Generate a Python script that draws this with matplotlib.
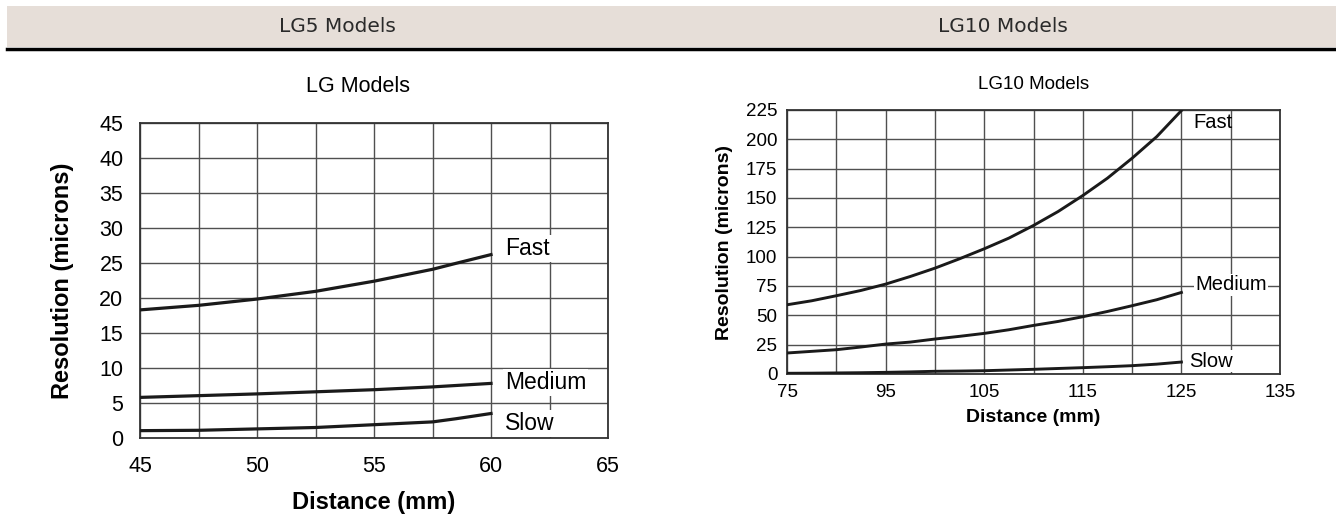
import matplotlib.pyplot as plt
from matplotlib.patches import Rectangle
from matplotlib.lines import Line2D

# LG5 (kiri)
lg5_x = [45, 47.5, 50, 52.5, 55, 57.5, 58.5, 60]
lg5_fast = [18.3, 18.95, 19.85, 20.95, 22.4, 24.1, 24.95, 26.2]
lg5_medium = [5.8, 6.05, 6.3, 6.6, 6.9, 7.3, 7.5, 7.8]
lg5_slow = [1.05, 1.1, 1.3, 1.5, 1.9, 2.3, 2.75, 3.5]
lg5_xticks = [45, 50, 55, 60, 65]

# LG10 (kanan) - label sumbu x seperti di gambar asli
lg10_x = [85, 87.5, 90, 92.5, 95, 97.5, 100, 102.5, 105, 107.5, 110,
          112.5, 115, 117.5, 120, 122.5, 125]
lg10_fast = [59.0, 62.4, 66.7, 71.2, 76.6, 83.1, 90.2, 98.2, 106.7, 115.8,
             126.6, 138.5, 152.1, 166.9, 183.9, 202.3, 224.5]
lg10_medium = [17.9, 19.3, 20.7, 23.0, 25.5, 27.2, 29.8, 32.1, 34.6, 37.7,
               41.4, 44.8, 48.8, 53.3, 58.2, 63.3, 69.5]
lg10_slow = [0.6, 0.7, 0.9, 1.1, 1.4, 1.8, 2.3, 2.5, 2.8, 3.4, 4.0, 4.7,
             5.4, 6.2, 7.1, 8.4, 10.2]
lg10_xticks = [85, 95, 105, 115, 125, 135]
lg10_xticklabels = ["75", "95", "105", "115", "125", "135"]

headers = ["LG5 Models", "LG10 Models"]

plt.rcParams["font.family"] = ["Liberation Sans", "DejaVu Sans"]

W, H = 1336, 521
fig = plt.figure(figsize=(W / 100, H / 100), dpi=100)

# Header
fig.patches.append(Rectangle((7 / W, 1 - 47 / H), 1 - 7 / W, 41 / H,
                             transform=fig.transFigure, facecolor="#e6ded8",
                             edgecolor="none"))
fig.lines.append(Line2D([7 / W, 1], [1 - 48.5 / H] * 2, transform=fig.transFigure,
                        color="black", linewidth=2.5))
fig.text(337 / W, 1 - 26 / H, headers[0], ha="center", va="center",
         fontsize=14.5, family=["DejaVu Sans"], color="#2a2a2a")
fig.text(1003 / W, 1 - 26 / H, headers[1], ha="center", va="center",
         fontsize=14.5, family=["DejaVu Sans"], color="#2a2a2a")

grid_c = "#505050"
line_c = "#1a1a1a"


def style_axes(ax):
    ax.grid(True, color=grid_c, linewidth=1.0)
    ax.set_axisbelow(True)
    for s in ax.spines.values():
        s.set_color("#333333")
        s.set_linewidth(1.3)
    ax.tick_params(length=0)


# Panel kiri
ax1 = fig.add_axes([140 / W, 1 - 438 / H, 468 / W, 315 / H])
ax1.plot(lg5_x, lg5_fast, color=line_c, linewidth=2.3, zorder=3)
ax1.plot(lg5_x, lg5_medium, color=line_c, linewidth=2.3, zorder=3)
ax1.plot(lg5_x, lg5_slow, color=line_c, linewidth=2.3, zorder=3)
ax1.set_xlim(45, 65)
ax1.set_ylim(0, 45)
xg1 = [45 + 2.5 * i for i in range(9)]
ax1.set_xticks(xg1)
ax1.set_xticklabels([str(int(v)) if v in lg5_xticks else "" for v in xg1])
ax1.set_yticks(range(0, 46, 5))
style_axes(ax1)
ax1.tick_params(labelsize=15.5)
ax1.tick_params(axis="y", pad=12)
ax1.tick_params(axis="x", pad=13)
ax1.set_xlabel("Distance (mm)", fontsize=17, fontweight="bold", va="center")
ax1.xaxis.set_label_coords(0.5, -0.206)
ax1.set_ylabel("Resolution (microns)", fontsize=17, fontweight="bold", va="center")
ax1.yaxis.set_label_coords(-0.165, 0.5)
ax1.text(0.465, 1.117, "LG Models", transform=ax1.transAxes, ha="center",
         va="center", fontsize=15.5)
box = dict(facecolor="white", edgecolor="none", pad=1.5)
ax1.text(60.6, 27.1, "Fast", fontsize=16.5, va="center", ha="left", bbox=box)
ax1.text(60.6, 7.9, "Medium", fontsize=16.5, va="center", ha="left", bbox=box)
ax1.text(60.6, 2.1, "Slow", fontsize=16.5, va="center", ha="left", bbox=box)

# Panel kanan
ax2 = fig.add_axes([787 / W, 1 - 374 / H, 493 / W, 264 / H])
ax2.plot(lg10_x, lg10_fast, color=line_c, linewidth=2.1, zorder=3)
ax2.plot(lg10_x, lg10_medium, color=line_c, linewidth=2.1, zorder=3)
ax2.plot(lg10_x, lg10_slow, color=line_c, linewidth=2.1, zorder=3)
ax2.set_xlim(85, 135)
ax2.set_ylim(0, 225)
xg2 = list(range(85, 136, 5))
ax2.set_xticks(xg2)
ax2.set_xticklabels([lg10_xticklabels[lg10_xticks.index(v)] if v in lg10_xticks else ""
                     for v in xg2])
ax2.set_yticks(range(0, 226, 25))
style_axes(ax2)
ax2.tick_params(labelsize=13.5)
ax2.tick_params(axis="x", pad=7)
ax2.tick_params(axis="y", pad=7)
ax2.set_xlabel("Distance (mm)", fontsize=14, fontweight="bold", va="center")
ax2.xaxis.set_label_coords(0.5, -0.163)
ax2.set_ylabel("Resolution (microns)", fontsize=14, fontweight="bold", va="center")
ax2.yaxis.set_label_coords(-0.126, 0.5)
ax2.text(0.5, 1.098, "LG10 Models", transform=ax2.transAxes, ha="center",
         va="center", fontsize=13.5)
box2 = dict(facecolor="white", edgecolor="none", pad=1.0)
ax2.text(126.2, 214, "Fast", fontsize=14.5, va="center", ha="left")
ax2.text(126.4, 76, "Medium", fontsize=14.5, va="center", ha="left", bbox=box2)
ax2.text(125.8, 11, "Slow", fontsize=14.5, va="center", ha="left", bbox=box2)

fig.savefig("out.png", dpi=100, facecolor="white")
